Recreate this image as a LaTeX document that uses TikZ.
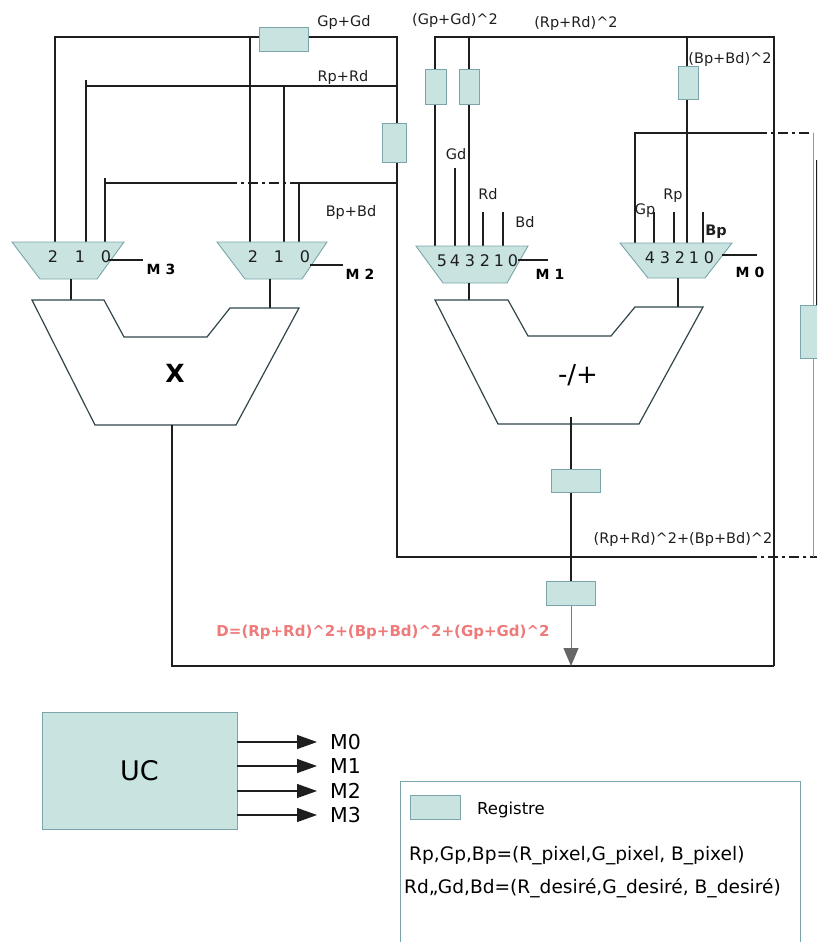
\documentclass[tikz,border=0pt]{standalone}
\usepackage{fontspec}
\setmainfont{DejaVu Sans}
\usetikzlibrary{arrows.meta}
\definecolor{regfill}{RGB}{201,227,225}
\definecolor{regline}{RGB}{122,165,170}
\definecolor{wire}{RGB}{30,30,30}
\definecolor{aluline}{RGB}{48,70,74}
\definecolor{dred}{RGB}{238,122,122}
\tikzset{
	reg/.style={draw=regline, fill=regfill, line width=0.9pt, inner sep=0pt},
	wirel/.style={draw=wire, line width=1.3pt},
	dashwire/.style={draw=wire, line width=1.3pt, dash pattern=on 10pt off 4pt on 3pt off 4pt},
	muxbody/.style={draw=regline, fill=regfill, line width=0.9pt},
	alubody/.style={draw=aluline, fill=white, line width=1.2pt},
	lbl/.style={font=\fontsize{14.5}{17}\selectfont, inner sep=0pt, text=wire},
	digit/.style={font=\fontsize{16}{18}\selectfont, inner sep=0pt, text=wire},
	sel/.style={font=\fontsize{14}{16}\selectfont\bfseries, inner sep=0pt},
}

\begin{document}
\begin{tikzpicture}[x=1pt, y=-1pt]
			%%%%% START %%%%%
			\useasboundingbox (0,0) rectangle (817,942);
			\clip (0,0) rectangle (817,942);
			
			% left bus: Gp+Gd, Rp+Rd, Bp+Bd
			\draw[wirel] (55,242) -- (55,37) -- (397,37) -- (397,557) -- (747,557);
			\draw[dashwire] (747,557) -- (817,557);
			\draw[wirel] (250,37) -- (250,242);
			\draw[wirel] (86,242) -- (86,80);
			\draw[wirel] (86,86) -- (397,86);
			\draw[wirel] (284,86) -- (284,242);
			\draw[wirel] (105,242) -- (105,178);
			\draw[wirel] (105,183) -- (227,183);
			\draw[dashwire] (227,183) -- (297,183);
			\draw[wirel] (297,183) -- (397,183);
			\draw[wirel] (299,183) -- (299,242);
			
			\node[reg, minimum width=49pt, minimum height=24pt] (rGG) at (284,39) {};
			\node[reg, minimum width=24pt, minimum height=39pt] (rBB) at (394,143) {};
			\node[lbl] (lGG) at (344,23) {Gp+Gd};
			\node[lbl] (lRR) at (343,77) {Rp+Rd};
			\node[lbl] (lBB) at (351,212) {Bp+Bd};
			
			% right bus: squares
			\draw[wirel] (435,246) -- (435,37) -- (774,37) -- (774,666);
			\draw[wirel] (469,37) -- (469,246);
			\draw[wirel] (687,37) -- (687,243);
			\node[reg, minimum width=21pt, minimum height=35pt] (rGsq) at (435.5,87) {};
			\node[reg, minimum width=20pt, minimum height=35pt] (rRsq) at (469,87) {};
			\node[reg, minimum width=20pt, minimum height=33pt] (rBsq) at (688,83) {};
			\node[lbl] (lGsq) at (455,21) {(Gp+Gd)\^{}2};
			\node[lbl] (lRsq) at (576,24) {(Rp+Rd)\^{}2};
			\node[lbl] (lBsq) at (730,59) {(Bp+Bd)\^{}2};
			
			\draw[wirel] (455,168) -- (455,246);
			\draw[wirel] (483,212) -- (483,246);
			\draw[wirel] (503,212) -- (503,246);
			\node[lbl] (lGd) at (456,154) {Gd};
			\node[lbl] (lRd) at (488,194) {Rd};
			\node[lbl] (lBd) at (525,222) {Bd};
			
			\draw[wirel] (635,243) -- (635,133) -- (757,133);
			\draw[dashwire] (757,133) -- (813,133);
			\draw[draw=regline, line width=1pt] (813,133) -- (813,557);
			\draw[wirel] (817,160) -- (817,305);
			\node[reg, minimum width=30pt, minimum height=53pt] (rEdge) at (815,331.5) {};
			\draw[wirel] (654,212) -- (654,243);
			\draw[wirel] (674,212) -- (674,243);
			\draw[wirel] (703,212) -- (703,243);
			\node[lbl] (lGp) at (645,211) {Gp};
			\node[lbl] (lRp) at (673,196) {Rp};
			\node[lbl, font=\fontsize{14.5}{17}\selectfont\bfseries] (lBp) at (716,232) {Bp};
			
			% muxes
			\draw[muxbody] (12,242) -- (124,242) -- (97,279) -- (40,279) -- cycle;
			\node[digit] (m3a) at (53,257) {2};
			\node[digit] (m3b) at (80,257) {1};
			\node[digit] (m3c) at (106,257) {0};
			\draw[wirel] (108,260) -- (143,260);
			\node[sel] (selM3) at (161,269) {M 3};
			\draw[wirel] (71,279) -- (71,300);
			
			\draw[muxbody] (217,242) -- (327,242) -- (302,279) -- (245,279) -- cycle;
			\node[digit] (m2a) at (253,257) {2};
			\node[digit] (m2b) at (279,257) {1};
			\node[digit] (m2c) at (305,257) {0};
			\draw[wirel] (310,265) -- (343,265);
			\node[sel] (selM2) at (360,274) {M 2};
			\draw[wirel] (270,279) -- (270,308);
			
			\draw[muxbody] (416,246) -- (528,246) -- (507,283) -- (443,283) -- cycle;
			\node[digit] (m1a) at (442,261) {5};
			\node[digit] (m1b) at (455,261) {4};
			\node[digit] (m1c) at (470,261) {3};
			\node[digit] (m1d) at (485,261) {2};
			\node[digit] (m1e) at (499,261) {1};
			\node[digit] (m1f) at (513,261) {0};
			\draw[wirel] (518,260) -- (548,260);
			\node[sel] (selM1) at (550,274) {M 1};
			\draw[wirel] (469,283) -- (469,300);
			
			\draw[muxbody] (620,243) -- (732,243) -- (705,278) -- (648,278) -- cycle;
			\node[digit] (m0a) at (650,258) {4};
			\node[digit] (m0b) at (665,258) {3};
			\node[digit] (m0c) at (680,258) {2};
			\node[digit] (m0d) at (694,258) {1};
			\node[digit] (m0e) at (709,258) {0};
			\draw[wirel] (722,255) -- (757,255);
			\node[sel] (selM0) at (750,272) {M 0};
			\draw[wirel] (678,278) -- (678,307);
			
			% operators
			\draw[alubody] (32,300) -- (104,300) -- (124,337) -- (207,337) -- (230,308) -- (299,308) -- (236,425) -- (95,425) -- cycle;
			\node[font=\fontsize{25}{27}\selectfont\bfseries, inner sep=0pt] (opX) at (175,373) {X};
			\draw[alubody] (435,300) -- (508,300) -- (528,336) -- (611,336) -- (635,307) -- (703,307) -- (639,424) -- (498,424) -- cycle;
			\node[font=\fontsize{26}{28}\selectfont, inner sep=0pt] (opPM) at (578,375) {-/+};
			
			\draw[wirel] (172,425) -- (172,666) -- (774,666);
			\draw[wirel] (571,417) -- (571,581);
			\draw[draw=regline!80!black, line width=1pt, -{Triangle[length=18pt, width=15pt, color=wire!68, fill=wire!68]}] (571,605) -- (571,666);
			\node[reg, minimum width=49pt, minimum height=23pt] (rAcc) at (576,481) {};
			\node[reg, minimum width=49pt, minimum height=24pt] (rD) at (571,593) {};
			\node[lbl] (lSum) at (683,539) {(Rp+Rd)\^{}2+(Bp+Bd)\^{}2};
			\node[font=\fontsize{15}{17}\selectfont\bfseries, text=dred, inner sep=0pt] (lD) at (383,632) {D=(Rp+Rd)\^{}2+(Bp+Bd)\^{}2+(Gp+Gd)\^{}2};
			
			% control unit
			\node[reg, minimum width=195pt, minimum height=117pt, font=\fontsize{27}{30}\selectfont] (uc) at (139.5,770.5) {UC};
			\node[font=\fontsize{20.5}{23}\selectfont, inner sep=0pt, anchor=west] (cM0) at (330,742) {M0};
			\node[font=\fontsize{20.5}{23}\selectfont, inner sep=0pt, anchor=west] (cM1) at (330,766) {M1};
			\node[font=\fontsize{20.5}{23}\selectfont, inner sep=0pt, anchor=west] (cM2) at (330,791) {M2};
			\node[font=\fontsize{20.5}{23}\selectfont, inner sep=0pt, anchor=west] (cM3) at (330,815) {M3};
			\draw[wirel, -{Triangle[length=20pt, width=14pt]}] (uc.east |- cM0) -- (317,742);
			\draw[wirel, -{Triangle[length=20pt, width=14pt]}] (uc.east |- cM1) -- (317,766);
			\draw[wirel, -{Triangle[length=20pt, width=14pt]}] (uc.east |- cM2) -- (317,791);
			\draw[wirel, -{Triangle[length=20pt, width=14pt]}] (uc.east |- cM3) -- (317,815);
			
			% legend
			\draw[draw=regline, line width=1pt] (400,781) rectangle (800,960);
			\node[reg, minimum width=50pt, minimum height=24pt] (key) at (435,807) {};
			\node[font=\fontsize{16.5}{19}\selectfont, inner sep=0pt, anchor=west] (keyTxt) at (477,810) {Registre};
			\node[font=\fontsize{18.6}{21}\selectfont, inner sep=0pt, anchor=west] (keyP) at (409,856) {Rp,Gp,Bp=(R\_pixel,G\_pixel, B\_pixel)};
			\node[font=\fontsize{18.6}{21}\selectfont, inner sep=0pt, anchor=west] (keyD) at (404,888) {Rd,,Gd,Bd=(R\_desiré,G\_desiré, B\_desiré)};
			
			%%%%% END %%%%%
\end{tikzpicture}
\end{document}
